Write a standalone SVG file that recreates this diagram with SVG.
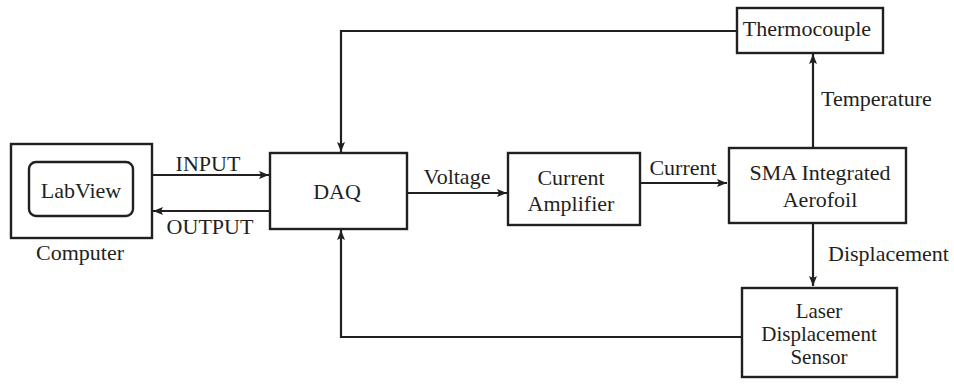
<svg xmlns="http://www.w3.org/2000/svg" width="954" height="387" viewBox="0 0 954 387">
<defs>
<marker id="ah" viewBox="0 0 10 8" refX="10" refY="4" markerWidth="10" markerHeight="8" markerUnits="userSpaceOnUse" orient="auto">
<path d="M0,0 L10,4 L0,8 L2,4 Z" fill="#231f20"/>
</marker>
</defs>
<style>
.box{fill:#fff;stroke:#231f20;stroke-width:2.4}
.ln{fill:none;stroke:#231f20;stroke-width:2.2}
.t{font-family:'Liberation Serif','DejaVu Serif','Times New Roman',serif;font-size:22px;fill:#231f20}
.s{font-size:21px}
.c{text-anchor:middle}
</style>
<rect width="954" height="387" fill="#fff"/>
<g id="connectors">
<path class="ln" d="M152,175 H269" marker-end="url(#ah)"/>
<path class="ln" d="M270,211 H153" marker-end="url(#ah)"/>
<path class="ln" d="M407,193 H507" marker-end="url(#ah)"/>
<path class="ln" d="M640,183 H727" marker-end="url(#ah)"/>
<path class="ln" d="M813,148 V54" marker-end="url(#ah)"/>
<path class="ln" d="M813,223 V286" marker-end="url(#ah)"/>
<path class="ln" d="M737,31 H341 V152" marker-end="url(#ah)"/>
<path class="ln" d="M742,337 H341 V230" marker-end="url(#ah)"/>
<text class="t c" x="208" y="171">INPUT</text>
<text class="t c" x="210" y="234">OUTPUT</text>
<text class="t c" x="457" y="184">Voltage</text>
<text class="t c" x="683" y="175">Current</text>
<text class="t" x="821" y="106">Temperature</text>
<text class="t" x="828" y="261">Displacement</text>
</g>
<g id="computer">
<rect class="box" x="11" y="144" width="141" height="94"/>
<rect class="box" x="29" y="162" width="104" height="54" rx="7"/>
<text class="t c" x="81" y="198">LabView</text>
<text class="t c" x="80" y="260">Computer</text>
</g>
<g id="daq">
<rect class="box" x="270" y="153" width="137" height="76"/>
<text class="t c" x="337" y="199">DAQ</text>
</g>
<g id="amplifier">
<rect class="box" x="508" y="153" width="132" height="72"/>
<text class="t c" x="571" y="185">Current</text>
<text class="t c" x="571" y="211">Amplifier</text>
</g>
<g id="sma">
<rect class="box" x="729" y="148" width="177" height="75"/>
<text class="t c" x="820" y="180">SMA Integrated</text>
<text class="t c" x="820" y="207">Aerofoil</text>
</g>
<g id="thermocouple">
<rect class="box" x="737" y="8" width="146" height="45"/>
<text class="t c" x="807" y="36">Thermocouple</text>
</g>
<g id="laser">
<rect class="box" x="742" y="288" width="155" height="89"/>
<text class="t s c" x="819" y="318">Laser</text>
<text class="t s c" x="819" y="341">Displacement</text>
<text class="t s c" x="819" y="364">Sensor</text>
</g>
</svg>
